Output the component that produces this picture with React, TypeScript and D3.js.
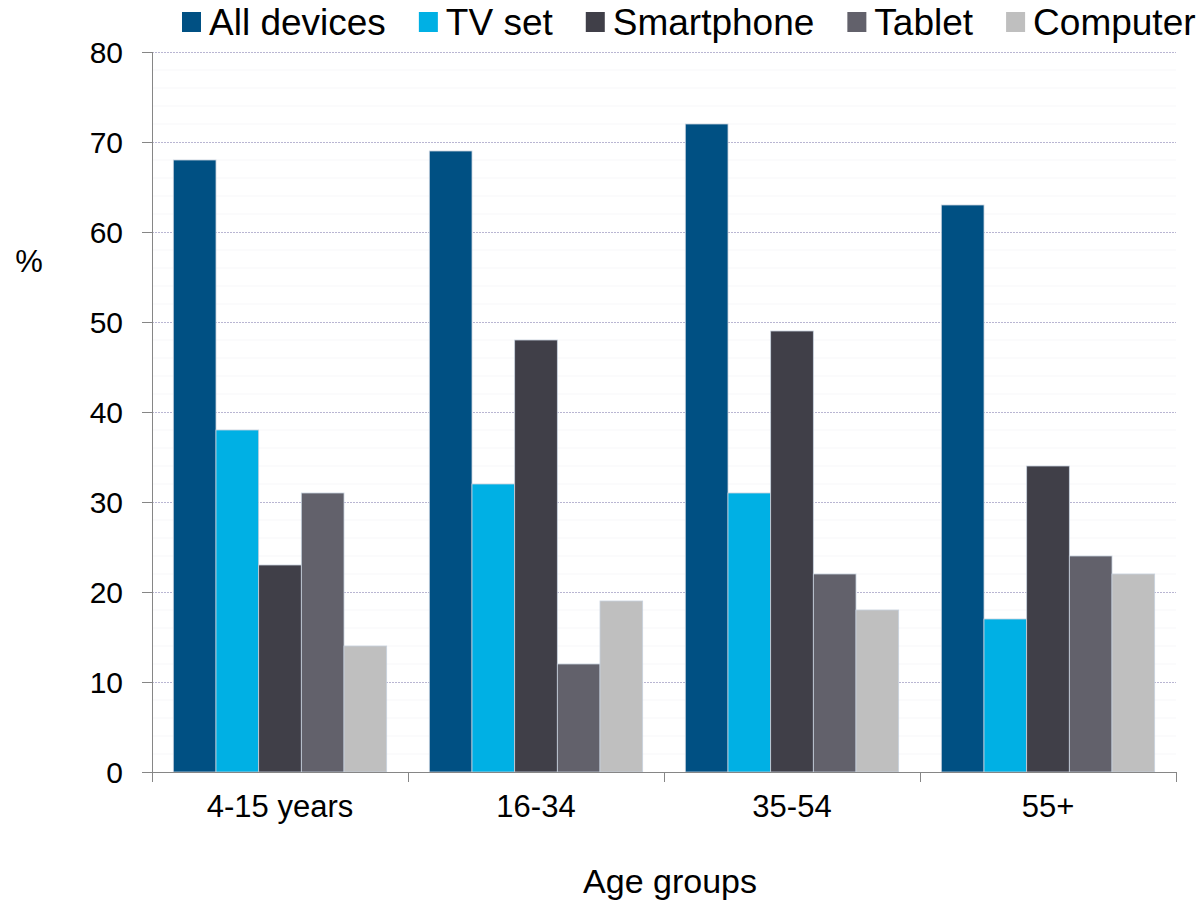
import React, { useEffect, useRef } from 'react'
import * as d3 from 'd3'

const ageGroups = ['4-15 years', '16-34', '35-54', '55+']
const deviceNames = ['All devices', 'TV set', 'Smartphone', 'Tablet', 'Computer']
const deviceColors = ['#005083', '#00b0e4', '#403f48', '#62616b', '#bfbfbf']

// one array per device, in the order of ageGroups
const allDevices = [68, 69, 72, 63]
const tvSet = [38, 32, 31, 17]
const smartphone = [23, 48, 49, 34]
const tablet = [31, 12, 22, 24]
const computer = [14, 19, 18, 22]

const yTicks = [0, 10, 20, 30, 40, 50, 60, 70, 80]

const App = () => {
    const parentEl = useRef<SVGSVGElement | null>(null)

    useEffect(() => {
        const width = 1202
        const height = 901
        const margin = { top: 52, right: 26, bottom: 129, left: 152 }
        const font = 'Liberation Sans, Arial, sans-serif'

        const svg = d3.select(parentEl.current)
        svg.selectAll('*').remove()

        const series = [allDevices, tvSet, smartphone, tablet, computer]

        const x0 = d3.scaleBand()
            .domain(ageGroups)
            .range([margin.left, width - margin.right])
            .padding(0)

        const x1 = d3.scaleBand()
            .domain(deviceNames)
            .range([0, x0.bandwidth()])
            .paddingInner(0)
            .paddingOuter(0.5)

        const y = d3.scaleLinear()
            .domain([0, 80])
            .range([height - margin.bottom, margin.top])

        // faint minor lines
        svg.append('g')
            .selectAll('line')
            .data(d3.range(0, 81, 2).filter(v => v % 10 !== 0))
            .enter()
            .append('line')
            .attr('x1', margin.left)
            .attr('x2', width - margin.right)
            .attr('y1', d => y(d))
            .attr('y2', d => y(d))
            .attr('stroke', '#f7f7f9')
            .attr('stroke-width', 1)

        // dashed major gridlines
        svg.append('g')
            .selectAll('line')
            .data(yTicks.filter(v => v > 0))
            .enter()
            .append('line')
            .attr('x1', margin.left)
            .attr('x2', width - margin.right)
            .attr('y1', d => Math.round(y(d)) + 0.5)
            .attr('y2', d => Math.round(y(d)) + 0.5)
            .attr('stroke', '#b9b6d2')
            .attr('stroke-width', 1)
            .attr('stroke-dasharray', '2,1')

        // bars
        const groups = svg.append('g')
            .selectAll('g')
            .data(ageGroups)
            .enter()
            .append('g')
            .attr('transform', d => `translate(${x0(d)}, 0)`)

        groups.selectAll('rect')
            .data((g, gi) => deviceNames.map((name, i) => ({ name, i, value: series[i][gi] })))
            .enter()
            .append('rect')
            .attr('x', d => x1(d.name))
            .attr('y', d => y(d.value))
            .attr('width', x1.bandwidth())
            .attr('height', d => y(0) - y(d.value))
            .attr('fill', d => deviceColors[d.i])
            .attr('stroke', '#c8d2de')
            .attr('stroke-width', 0.8)

        // y axis
        const yAxis = svg.append('g')
        yAxis.append('line')
            .attr('x1', margin.left + 0.5).attr('x2', margin.left + 0.5)
            .attr('y1', y(80)).attr('y2', y(0))
            .attr('stroke', '#868686')
        yAxis.selectAll('line.tick')
            .data(yTicks)
            .enter()
            .append('line')
            .attr('class', 'tick')
            .attr('x1', margin.left - 10).attr('x2', margin.left)
            .attr('y1', d => Math.round(y(d)) + 0.5)
            .attr('y2', d => Math.round(y(d)) + 0.5)
            .attr('stroke', '#868686')
        yAxis.selectAll('text')
            .data(yTicks)
            .enter()
            .append('text')
            .attr('x', margin.left - 29)
            .attr('y', d => y(d))
            .attr('dy', '0.36em')
            .attr('text-anchor', 'end')
            .style('font-family', font)
            .style('font-size', '30px')
            .text(d => d)

        // x axis
        const xAxis = svg.append('g')
        xAxis.append('line')
            .attr('x1', margin.left - 10).attr('x2', width - margin.right)
            .attr('y1', y(0) + 0.5).attr('y2', y(0) + 0.5)
            .attr('stroke', '#868686')
        const bounds = ageGroups.map(g => x0(g)).concat([width - margin.right])
        xAxis.selectAll('line.tick')
            .data(bounds)
            .enter()
            .append('line')
            .attr('class', 'tick')
            .attr('x1', d => Math.round(d) + 0.5).attr('x2', d => Math.round(d) + 0.5)
            .attr('y1', y(0)).attr('y2', y(0) + 10)
            .attr('stroke', '#868686')
        xAxis.selectAll('text')
            .data(ageGroups)
            .enter()
            .append('text')
            .attr('x', d => x0(d) + x0.bandwidth() / 2)
            .attr('y', 817)
            .attr('text-anchor', 'middle')
            .style('font-family', font)
            .style('font-size', '31px')
            .text(d => d)

        // axis titles
        svg.append('text')
            .attr('x', (margin.left + width - margin.right) / 2 + 6)
            .attr('y', 893)
            .attr('text-anchor', 'middle')
            .style('font-family', font)
            .style('font-size', '34px')
            .text('Age groups')

        svg.append('text')
            .attr('x', 29)
            .attr('y', 272)
            .attr('text-anchor', 'middle')
            .style('font-family', font)
            .style('font-size', '31px')
            .text('%')

        // legend
        const legend = svg.append('g')
        let cursor = 182
        deviceNames.forEach((name, i) => {
            legend.append('rect')
                .attr('x', cursor)
                .attr('y', 12)
                .attr('width', 19)
                .attr('height', 20)
                .attr('fill', deviceColors[i])
            const t = legend.append('text')
                .attr('x', cursor + 27)
                .attr('y', 35)
                .style('font-family', font)
                .style('font-size', '37px')
                .text(name)
            const w = (t.node() as SVGTextElement).getComputedTextLength()
            cursor += 27 + w + 33
        })
    }, [])

    return (
        <svg ref={parentEl} width={1202} height={901}
            style={{ position: 'absolute', left: 0, top: 0, background: '#fff' }}>
        </svg>
    )
}

export default App
